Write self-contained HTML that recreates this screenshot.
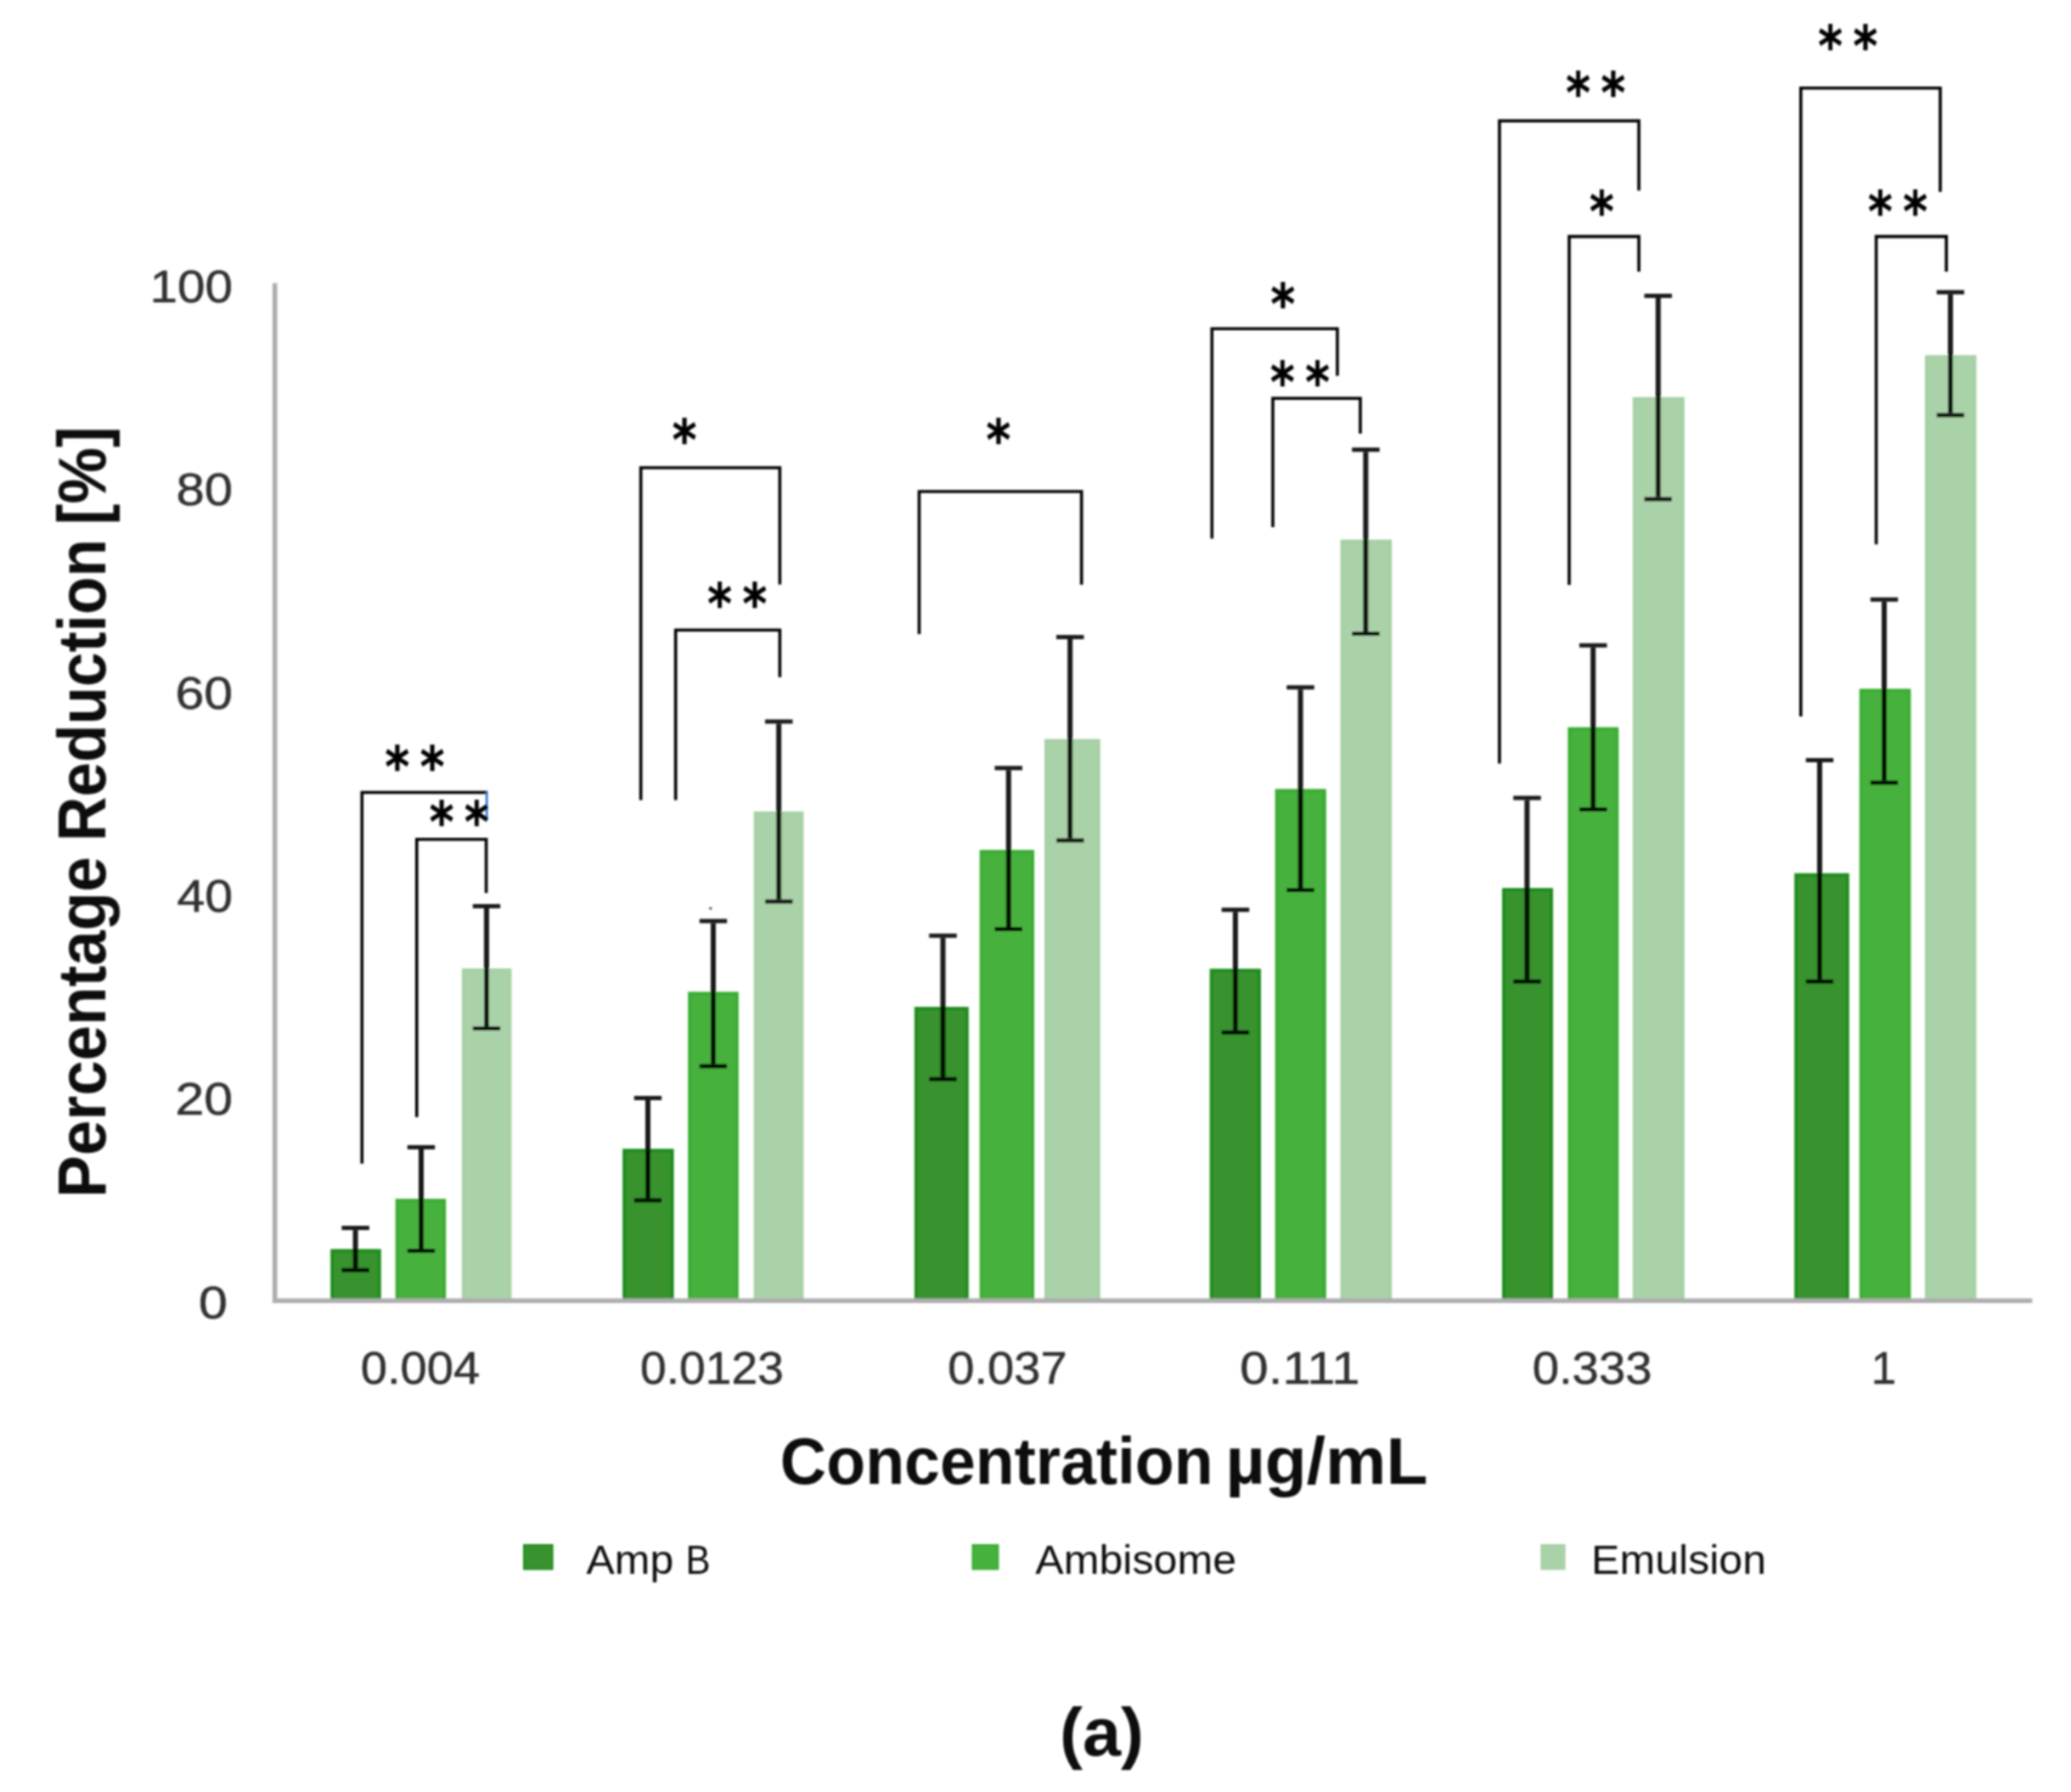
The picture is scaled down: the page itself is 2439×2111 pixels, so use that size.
<!DOCTYPE html>
<html lang="en"><head><meta charset="utf-8"><title>Percentage Reduction chart (a)</title>
<style>
html,body{margin:0;padding:0;background:#fff;}
body{width:2439px;height:2111px;overflow:hidden;font-family:"Liberation Sans", sans-serif;}
svg{display:block;}
</style></head><body>
<svg width="2439" height="2111" viewBox="0 0 2439 2111">
<defs><filter id="soft" x="0" y="0" width="100%" height="100%" filterUnits="userSpaceOnUse"><feGaussianBlur stdDeviation="0.9"/></filter></defs>
<rect width="2439" height="2111" fill="#ffffff"/>
<g filter="url(#soft)">
<g stroke-width="4">
<rect x="391.2" y="1473.4" width="55.6" height="58.9" fill="#37932f" stroke="#1f8d1f"/>
<rect x="467.7" y="1414.2" width="55.5" height="118.1" fill="#47b13d" stroke="#3aad33"/>
<rect x="545.9" y="1142.8" width="54.5" height="389.5" fill="#aad2a8" stroke="#a6d0a4"/>
<rect x="735.2" y="1355.3" width="56.4" height="177.0" fill="#37932f" stroke="#1f8d1f"/>
<rect x="812.2" y="1170.4" width="55.6" height="361.9" fill="#47b13d" stroke="#3aad33"/>
<rect x="889.7" y="957.9" width="54.7" height="574.4" fill="#aad2a8" stroke="#a6d0a4"/>
<rect x="1078.9" y="1188.1" width="59.9" height="344.2" fill="#37932f" stroke="#1f8d1f"/>
<rect x="1155.7" y="1003.2" width="60.3" height="529.1" fill="#47b13d" stroke="#3aad33"/>
<rect x="1232.0" y="872.6" width="61.8" height="659.7" fill="#aad2a8" stroke="#a6d0a4"/>
<rect x="1426.7" y="1143.2" width="56.3" height="389.1" fill="#37932f" stroke="#1f8d1f"/>
<rect x="1503.7" y="931.4" width="56.1" height="600.9" fill="#47b13d" stroke="#3aad33"/>
<rect x="1580.6" y="637.6" width="56.5" height="894.7" fill="#aad2a8" stroke="#a6d0a4"/>
<rect x="1771.0" y="1048.1" width="56.0" height="484.2" fill="#37932f" stroke="#1f8d1f"/>
<rect x="1848.4" y="858.7" width="55.9" height="673.6" fill="#47b13d" stroke="#3aad33"/>
<rect x="1924.8" y="469.8" width="57.0" height="1062.5" fill="#aad2a8" stroke="#a6d0a4"/>
<rect x="2115.2" y="1030.7" width="60.6" height="501.6" fill="#37932f" stroke="#1f8d1f"/>
<rect x="2191.8" y="813.4" width="56.6" height="718.9" fill="#47b13d" stroke="#3aad33"/>
<rect x="2269.0" y="420.4" width="56.6" height="1111.9" fill="#aad2a8" stroke="#a6d0a4"/>
</g>
<path d="M323.7 333.5 V1532.3 H2393.3" fill="none" stroke="#adadad" stroke-width="5.6" stroke-linejoin="miter"/>
<g stroke="#000" fill="none" opacity="0.9">
<path stroke-width="6.0" d="M418.6 1449.1 V1493.8"/><path stroke-width="5.0" d="M402.4 1446.6 H434.9 M402.4 1496.3 H434.9"/>
<path stroke-width="6.0" d="M496.0 1354.0 V1471.1"/><path stroke-width="5.0" d="M479.8 1351.5 H512.2 M479.8 1473.6 H512.2"/>
<path stroke-width="6.0" d="M573.0 1070.0 V1208.9"/><path stroke-width="5.0" d="M556.8 1067.5 H589.2 M556.8 1211.4 H589.2"/>
<path stroke-width="6.0" d="M763.0 1296.0 V1411.5"/><path stroke-width="5.0" d="M746.8 1293.5 H779.2 M746.8 1414.0 H779.2"/>
<path stroke-width="6.0" d="M840.0 1087.5 V1253.5"/><path stroke-width="5.0" d="M823.8 1085.0 H856.2 M823.8 1256.0 H856.2"/>
<path stroke-width="6.0" d="M917.2 852.5 V1059.5"/><path stroke-width="5.0" d="M901.0 850.0 H933.5 M901.0 1062.0 H933.5"/>
<path stroke-width="6.0" d="M1110.5 1104.7 V1268.7"/><path stroke-width="5.0" d="M1094.2 1102.2 H1126.8 M1094.2 1271.2 H1126.8"/>
<path stroke-width="6.0" d="M1187.8 907.3 V1092.0"/><path stroke-width="5.0" d="M1171.5 904.8 H1204.0 M1171.5 1094.5 H1204.0"/>
<path stroke-width="6.0" d="M1260.2 753.1 V987.5"/><path stroke-width="5.0" d="M1244.0 750.6 H1276.5 M1244.0 990.0 H1276.5"/>
<path stroke-width="6.0" d="M1454.9 1074.3 V1213.7"/><path stroke-width="5.0" d="M1438.7 1071.8 H1471.2 M1438.7 1216.2 H1471.2"/>
<path stroke-width="6.0" d="M1531.6 812.2 V1046.1"/><path stroke-width="5.0" d="M1515.3 809.7 H1547.8 M1515.3 1048.6 H1547.8"/>
<path stroke-width="6.0" d="M1608.4 532.2 V744.1"/><path stroke-width="5.0" d="M1592.2 529.7 H1624.7 M1592.2 746.6 H1624.7"/>
<path stroke-width="6.0" d="M1798.4 942.5 V1153.8"/><path stroke-width="5.0" d="M1782.2 940.0 H1814.7 M1782.2 1156.3 H1814.7"/>
<path stroke-width="6.0" d="M1876.2 762.8 V950.9"/><path stroke-width="5.0" d="M1860.0 760.3 H1892.5 M1860.0 953.4 H1892.5"/>
<path stroke-width="6.0" d="M1952.8 351.1 V585.5"/><path stroke-width="5.0" d="M1936.5 348.6 H1969.0 M1936.5 588.0 H1969.0"/>
<path stroke-width="6.0" d="M2143.0 898.1 V1153.8"/><path stroke-width="5.0" d="M2126.8 895.6 H2159.2 M2126.8 1156.3 H2159.2"/>
<path stroke-width="6.0" d="M2219.0 708.8 V919.5"/><path stroke-width="5.0" d="M2202.8 706.3 H2235.2 M2202.8 922.0 H2235.2"/>
<path stroke-width="6.0" d="M2297.0 346.8 V486.5"/><path stroke-width="5.0" d="M2280.8 344.3 H2313.2 M2280.8 489.0 H2313.2"/>
</g>
<g stroke="#000" stroke-width="3.6" fill="none" stroke-linejoin="miter">
<polyline points="426.3,1370.8 426.3,933.5 574.2,933.5"/>
<polyline points="490.8,1316.0 490.8,988.8 572.6,988.8 572.6,1052.0"/>
<polyline points="754.7,942.5 754.7,551.0 918.4,551.0 918.4,688.6"/>
<polyline points="795.7,942.5 795.7,742.2 918.4,742.2 918.4,797.8"/>
<polyline points="1082.5,747.0 1082.5,579.0 1273.7,579.0 1273.7,688.7"/>
<polyline points="1427.3,634.6 1427.3,387.3 1575.0,387.3 1575.0,442.8"/>
<polyline points="1499.0,621.0 1499.0,469.3 1602.0,469.3 1602.0,510.7"/>
<polyline points="1765.9,899.5 1765.9,142.4 1930.1,142.4 1930.1,224.5"/>
<polyline points="1848.0,689.0 1848.0,278.6 1930.1,278.6 1930.1,320.0"/>
<polyline points="2120.8,843.9 2120.8,103.8 2285.0,103.8 2285.0,226.0"/>
<polyline points="2209.6,641.2 2209.6,278.6 2292.2,278.6 2292.2,320.0"/>
</g>
<line x1="573.2" y1="933" x2="573.2" y2="967" stroke="#1f66c8" stroke-width="2.4"/>
<circle cx="836.8" cy="1070" r="1.6" fill="#333"/>
<text transform="translate(453.44,926.02) scale(0.1375,0.1626)" font-family='"DejaVu Sans", sans-serif' font-size="400" font-weight="bold" fill="#000" stroke="#000" stroke-width="3">*</text>
<text transform="translate(494.74,926.02) scale(0.1375,0.1626)" font-family='"DejaVu Sans", sans-serif' font-size="400" font-weight="bold" fill="#000" stroke="#000" stroke-width="3">*</text>
<text transform="translate(505.64,990.52) scale(0.1375,0.1626)" font-family='"DejaVu Sans", sans-serif' font-size="400" font-weight="bold" fill="#000" stroke="#000" stroke-width="3">*</text>
<text transform="translate(546.94,990.52) scale(0.1375,0.1626)" font-family='"DejaVu Sans", sans-serif' font-size="400" font-weight="bold" fill="#000" stroke="#000" stroke-width="3">*</text>
<text transform="translate(791.79,541.02) scale(0.1375,0.1626)" font-family='"DejaVu Sans", sans-serif' font-size="400" font-weight="bold" fill="#000" stroke="#000" stroke-width="3">*</text>
<text transform="translate(833.14,733.72) scale(0.1375,0.1626)" font-family='"DejaVu Sans", sans-serif' font-size="400" font-weight="bold" fill="#000" stroke="#000" stroke-width="3">*</text>
<text transform="translate(874.44,733.72) scale(0.1375,0.1626)" font-family='"DejaVu Sans", sans-serif' font-size="400" font-weight="bold" fill="#000" stroke="#000" stroke-width="3">*</text>
<text transform="translate(1161.59,541.02) scale(0.1375,0.1626)" font-family='"DejaVu Sans", sans-serif' font-size="400" font-weight="bold" fill="#000" stroke="#000" stroke-width="3">*</text>
<text transform="translate(1496.39,381.02) scale(0.1375,0.1626)" font-family='"DejaVu Sans", sans-serif' font-size="400" font-weight="bold" fill="#000" stroke="#000" stroke-width="3">*</text>
<text transform="translate(1495.94,473.22) scale(0.1375,0.1626)" font-family='"DejaVu Sans", sans-serif' font-size="400" font-weight="bold" fill="#000" stroke="#000" stroke-width="3">*</text>
<text transform="translate(1537.24,473.22) scale(0.1375,0.1626)" font-family='"DejaVu Sans", sans-serif' font-size="400" font-weight="bold" fill="#000" stroke="#000" stroke-width="3">*</text>
<text transform="translate(1844.14,132.02) scale(0.1375,0.1626)" font-family='"DejaVu Sans", sans-serif' font-size="400" font-weight="bold" fill="#000" stroke="#000" stroke-width="3">*</text>
<text transform="translate(1885.44,132.02) scale(0.1375,0.1626)" font-family='"DejaVu Sans", sans-serif' font-size="400" font-weight="bold" fill="#000" stroke="#000" stroke-width="3">*</text>
<text transform="translate(1871.99,272.02) scale(0.1375,0.1626)" font-family='"DejaVu Sans", sans-serif' font-size="400" font-weight="bold" fill="#000" stroke="#000" stroke-width="3">*</text>
<text transform="translate(2141.14,77.42) scale(0.1375,0.1626)" font-family='"DejaVu Sans", sans-serif' font-size="400" font-weight="bold" fill="#000" stroke="#000" stroke-width="3">*</text>
<text transform="translate(2182.44,77.42) scale(0.1375,0.1626)" font-family='"DejaVu Sans", sans-serif' font-size="400" font-weight="bold" fill="#000" stroke="#000" stroke-width="3">*</text>
<text transform="translate(2199.94,272.02) scale(0.1375,0.1626)" font-family='"DejaVu Sans", sans-serif' font-size="400" font-weight="bold" fill="#000" stroke="#000" stroke-width="3">*</text>
<text transform="translate(2241.24,272.02) scale(0.1375,0.1626)" font-family='"DejaVu Sans", sans-serif' font-size="400" font-weight="bold" fill="#000" stroke="#000" stroke-width="3">*</text>
<text transform="translate(176.55,356.17) scale(0.1461,0.1322)" font-family='"Liberation Sans", sans-serif' font-size="400" stroke="#303030" stroke-width="4" fill="#303030">100</text>
<text transform="translate(207.43,595.37) scale(0.1498,0.1322)" font-family='"Liberation Sans", sans-serif' font-size="400" stroke="#303030" stroke-width="4" fill="#303030">80</text>
<text transform="translate(206.45,834.57) scale(0.1521,0.1322)" font-family='"Liberation Sans", sans-serif' font-size="400" stroke="#303030" stroke-width="4" fill="#303030">60</text>
<text transform="translate(208.38,1073.97) scale(0.1477,0.1322)" font-family='"Liberation Sans", sans-serif' font-size="400" stroke="#303030" stroke-width="4" fill="#303030">40</text>
<text transform="translate(206.45,1312.97) scale(0.1521,0.1322)" font-family='"Liberation Sans", sans-serif' font-size="400" stroke="#303030" stroke-width="4" fill="#303030">20</text>
<text transform="translate(234.09,1552.77) scale(0.1525,0.1322)" font-family='"Liberation Sans", sans-serif' font-size="400" stroke="#303030" stroke-width="4" fill="#303030">0</text>
<text transform="translate(424.64,1629.67) scale(0.1406,0.1322)" font-family='"Liberation Sans", sans-serif' font-size="400" stroke="#303030" stroke-width="4" fill="#303030">0.004</text>
<text transform="translate(753.97,1629.67) scale(0.1382,0.1322)" font-family='"Liberation Sans", sans-serif' font-size="400" stroke="#303030" stroke-width="4" fill="#303030">0.0123</text>
<text transform="translate(1116.25,1629.67) scale(0.1404,0.1322)" font-family='"Liberation Sans", sans-serif' font-size="400" stroke="#303030" stroke-width="4" fill="#303030">0.037</text>
<text transform="translate(1460.32,1629.67) scale(0.1502,0.1322)" font-family='"Liberation Sans", sans-serif' font-size="400" stroke="#303030" stroke-width="4" fill="#303030">0.111</text>
<text transform="translate(1804.64,1629.67) scale(0.1409,0.1322)" font-family='"Liberation Sans", sans-serif' font-size="400" stroke="#303030" stroke-width="4" fill="#303030">0.333</text>
<text transform="translate(2203.69,1629.67) scale(0.1324,0.1322)" font-family='"Liberation Sans", sans-serif' font-size="400" stroke="#303030" stroke-width="4" fill="#303030">1</text>
<text transform="translate(918.85,1748.00) scale(0.1881,0.1956)" font-family='"Liberation Sans", sans-serif' font-size="400" font-weight="bold" fill="#0a0a0a">Concentration</text>
<text transform="translate(1443.48,1748.00) scale(0.2008,0.1956)" font-family='"Liberation Sans", sans-serif' font-size="400" font-weight="bold" fill="#0a0a0a">µg/mL</text>
<text transform="translate(123.70,1410.96) rotate(-90) scale(0.1863,0.1970)" font-family='"Liberation Sans", sans-serif' font-size="400" font-weight="bold" fill="#0a0a0a">Percentage</text>
<text transform="translate(123.70,991.06) rotate(-90) scale(0.1822,0.1970)" font-family='"Liberation Sans", sans-serif' font-size="400" font-weight="bold" fill="#0a0a0a">Reduction</text>
<text transform="translate(123.70,618.40) rotate(-90) scale(0.1867,0.1970)" font-family='"Liberation Sans", sans-serif' font-size="400" font-weight="bold" fill="#0a0a0a">[%]</text>
<text transform="translate(690.40,1853.90) scale(0.1250,0.1220)" font-family='"Liberation Sans", sans-serif' font-size="400" fill="#111">Amp</text>
<text transform="translate(807.39,1853.90) scale(0.1093,0.1220)" font-family='"Liberation Sans", sans-serif' font-size="400" fill="#111">B</text>
<text transform="translate(1219.30,1853.90) scale(0.1253,0.1220)" font-family='"Liberation Sans", sans-serif' font-size="400" fill="#111">Ambisome</text>
<text transform="translate(1874.09,1853.90) scale(0.1252,0.1220)" font-family='"Liberation Sans", sans-serif' font-size="400" fill="#111">Emulsion</text>
<text transform="translate(1247.90,2068.22) scale(0.2026,0.1975)" font-family='"Liberation Sans", sans-serif' font-size="400" font-weight="bold" fill="#0a0a0a">(a)</text>
<rect x="617" y="1820" width="33.6" height="28.4" fill="#37932f" stroke="#1f8d1f" stroke-width="2"/>
<rect x="1145.5" y="1820" width="29.9" height="28.4" fill="#47b13d" stroke="#3aad33" stroke-width="2"/>
<rect x="1815.4" y="1820" width="27.2" height="28.4" fill="#aad2a8" stroke="#a6d0a4" stroke-width="2"/>
</g>
</svg>
</body></html>
